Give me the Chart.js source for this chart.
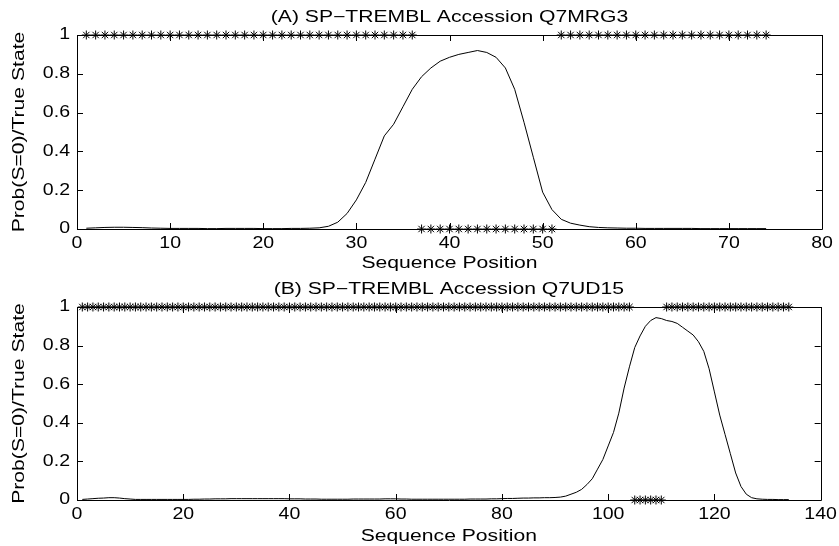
<!DOCTYPE html>
<html>
<head>
<meta charset="utf-8">
<script src="https://cdn.jsdelivr.net/npm/chart.js@4.4.0/dist/chart.umd.min.js"></script>
<style>
  body{margin:0;background:#fff;}
  .box{position:absolute;left:0;width:839px;height:273px;}
</style>
</head>
<body>
<div class="box" style="top:0"><canvas id="chartA" width="839" height="273"></canvas></div>
<div class="box" style="top:273px"><canvas id="chartB" width="839" height="273"></canvas></div>
<script>
// (A) Q7MRG3 - prob of S=0 per position, and true state
var probA=[0.004,0.006,0.008,0.009,0.009,0.008,0.007,0.005,0.004,0.003,
  0.003,0.003,0.003,0.002,0.002,0.003,0.003,0.003,0.003,0.002,
  0.002,0.002,0.003,0.003,0.004,0.006,0.014,0.035,0.08,0.15,
  0.24,0.36,0.48,0.54,0.63,0.72,0.785,0.83,0.865,0.885,
  0.9,0.91,0.92,0.91,0.885,0.83,0.72,0.55,0.37,0.19,
  0.1,0.05,0.03,0.02,0.012,0.008,0.006,0.005,0.004,0.004,
  0.003,0.003,0.003,0.003,0.003,0.003,0.002,0.002,0.002,0.002,
  0.002,0.002,0.002,0.002];
var stateA=[1,1,1,1,1,1,1,1,1,1,1,1,1,1,1,1,1,1,1,1,1,1,1,1,1,1,1,1,1,1,1,1,1,1,1,1,
  0,0,0,0,0,0,0,0,0,0,0,0,0,0,0,
  1,1,1,1,1,1,1,1,1,1,1,1,1,1,1,1,1,1,1,1,1,1,1];
var ticksA=[0,10,20,30,40,50,60,70,80];

// (B) Q7UD15
var probB=[0.003,0.005,0.007,0.009,0.01,0.012,0.012,0.01,0.007,0.005,
  0.003,0.003,0.003,0.003,0.003,0.003,0.003,0.003,0.003,0.003,
  0.003,0.004,0.004,0.005,0.005,0.006,0.006,0.006,0.007,0.007,
  0.007,0.007,0.007,0.007,0.007,0.007,0.007,0.007,0.007,0.006,
  0.006,0.006,0.005,0.005,0.005,0.004,0.004,0.004,0.004,0.004,
  0.004,0.005,0.005,0.005,0.005,0.005,0.005,0.006,0.006,0.006,
  0.005,0.005,0.004,0.004,0.004,0.004,0.004,0.004,0.004,0.004,
  0.004,0.004,0.004,0.005,0.005,0.005,0.005,0.006,0.006,0.007,
  0.008,0.008,0.009,0.01,0.01,0.011,0.011,0.012,0.012,0.013,
  0.015,0.02,0.03,0.04,0.055,0.08,0.11,0.16,0.21,0.28,
  0.35,0.45,0.58,0.69,0.79,0.85,0.9,0.93,0.945,0.94,
  0.93,0.925,0.915,0.895,0.875,0.855,0.82,0.77,0.68,0.56,
  0.44,0.34,0.24,0.14,0.07,0.03,0.012,0.006,0.004,0.003,
  0.003,0.002,0.002,0.002];
var stateB=[1,1,1,1,1,1,1,1,1,1,1,1,1,1,1,1,1,1,1,1,1,1,1,1,1,1,1,1,1,1,
  1,1,1,1,1,1,1,1,1,1,1,1,1,1,1,1,1,1,1,1,1,1,1,1,1,1,1,1,1,1,
  1,1,1,1,1,1,1,1,1,1,1,1,1,1,1,1,1,1,1,1,1,1,1,1,1,1,1,1,1,1,
  1,1,1,1,1,1,1,1,1,1,1,1,1,1,
  0,0,0,0,0,0,
  1,1,1,1,1,1,1,1,1,1,1,1,1,1,1,1,1,1,1,1,1,1,1,1];
var ticksB=[0,20,40,60,80,100,120,140];
var ticksY=[0,0.2,0.4,0.6,0.8,1];

var FONT='"Liberation Sans", Arial, sans-serif';

// the original figure's text is wide and flat, so widen glyphs along the text direction
function wideText(ctx){
  var fill=ctx.fillText;
  ctx.fillText=function(t,x,y){
    var sx=/^[\d.]+$/.test(t)?1.22:1.32;
    this.save();
    this.translate(x,y);
    this.scale(sx,1);
    fill.call(this,t,0,0);
    this.restore();
  };
}

// MATLAB style box with inward ticks on all four sides
var boxTicks={
  id:'boxTicks',
  beforeDatasetsDraw:function(chart){
    var ctx=chart.ctx, a=chart.chartArea, x=chart.scales.x, y=chart.scales.y;
    var L=6;
    ctx.save();
    ctx.strokeStyle='#000';
    ctx.lineWidth=1;
    ctx.beginPath();
    ctx.rect(Math.round(a.left)+0.5,Math.round(a.top)+0.5,Math.round(a.right-a.left),Math.round(a.bottom-a.top));
    x.ticks.forEach(function(t){
      var p=Math.round(x.getPixelForValue(t.value))+0.5;
      ctx.moveTo(p,a.bottom);ctx.lineTo(p,a.bottom-L);
      ctx.moveTo(p,a.top);ctx.lineTo(p,a.top+L);
    });
    y.ticks.forEach(function(t){
      var p=Math.round(y.getPixelForValue(t.value))+0.5;
      ctx.moveTo(a.left,p);ctx.lineTo(a.left+L,p);
      ctx.moveTo(a.right,p);ctx.lineTo(a.right-L,p);
    });
    ctx.stroke();
    ctx.restore();
  },
  afterDraw:function(chart){
    var ctx=chart.ctx, a=chart.chartArea;
    ctx.save();
    ctx.fillStyle='#000';
    ctx.font='16px '+FONT;
    ctx.textAlign='center';
    ctx.textBaseline='middle';
    ctx.fillText(chart.options.plugins.boxTicks.title,(a.left+a.right)/2,a.top-17);
    ctx.restore();
  }
};

function makeChart(id,title,prob,state,xt,topPad,xH){
  var cv=document.getElementById(id);
  wideText(cv.getContext('2d'));
  var curve=prob.map(function(v,i){return {x:i+1,y:v};});
  var truth=state.map(function(v,i){return {x:i+1,y:v};});
  var xmax=xt[xt.length-1];
  return new Chart(cv,{
    type:'scatter',
    data:{datasets:[
      {data:curve,showLine:true,borderColor:'#000',borderWidth:1,pointRadius:0,tension:0,fill:false},
      {data:truth,showLine:false,pointStyle:'star',pointRadius:4.5,borderColor:'#000',backgroundColor:'#000',borderWidth:1,clip:false}
    ]},
    options:{
      responsive:false,animation:false,
      layout:{padding:{left:0,right:17,bottom:0,top:topPad}},
      plugins:{
        legend:{display:false},tooltip:{enabled:false},title:{display:false},
        boxTicks:{title:title}
      },
      scales:{
        x:{type:'linear',min:0,max:xmax,
          afterBuildTicks:function(s){s.ticks=xt.map(function(v){return {value:v};});},
          afterFit:function(s){s.height=xH;},
          grid:{display:false,drawTicks:false},border:{display:false},
          ticks:{color:'#000',font:{family:FONT,size:16},padding:5,maxRotation:0},
          title:{display:true,text:'Sequence Position',color:'#000',font:{family:FONT,size:16},padding:{top:0,bottom:0}}
        },
        y:{type:'linear',min:0,max:1,
          afterBuildTicks:function(s){s.ticks=ticksY.map(function(v){return {value:v};});},
          afterFit:function(s){s.width=77;},
          grid:{display:false,drawTicks:false},border:{display:false},
          ticks:{color:'#000',font:{family:FONT,size:16},padding:7,callback:function(v){return String(v);}},
          title:{display:true,text:'Prob(S=0)/True State',color:'#000',font:{family:FONT,size:16},padding:{top:9.5,bottom:0}}
        }
      }
    },
    plugins:[boxTicks]
  });
}

makeChart('chartA','(A) SP\u2212TREMBL Accession Q7MRG3',probA,stateA,ticksA,35,44);
makeChart('chartB','(B) SP\u2212TREMBL Accession Q7UD15',probB,stateB,ticksB,34,46);
</script>
</body>
</html>
